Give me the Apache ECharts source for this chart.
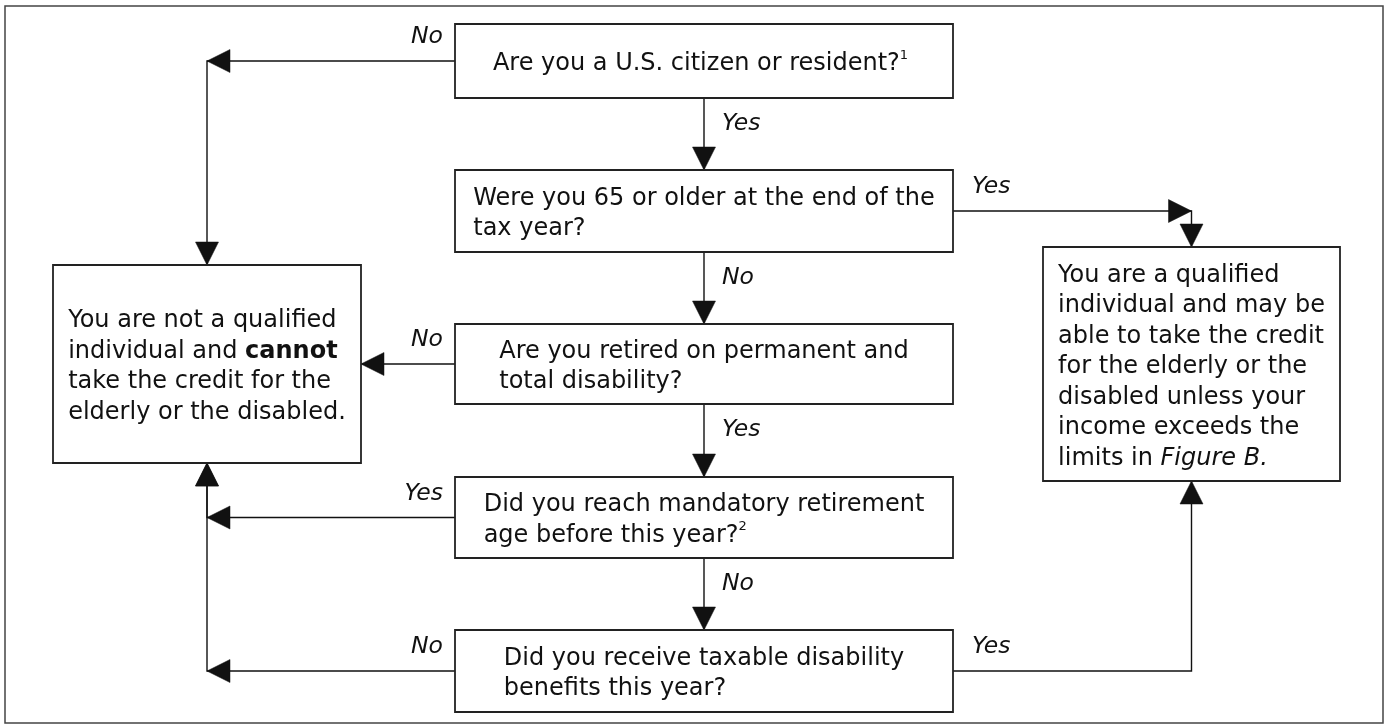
<!DOCTYPE html>
<html><head><meta charset="utf-8">
<script src="https://cdn.jsdelivr.net/npm/echarts@6/dist/echarts.min.js"></script>
<style>html,body{margin:0;padding:0;background:#fff}#c{width:1391px;height:726px}</style>
</head><body><div id="c"></div>
<script>
// ---------------- content ----------------
const nodeIds = ['q1', 'q2', 'q3', 'q4', 'q5', 'notq', 'qual'];
const nodeTexts = [
  'Are you a U.S. citizen or resident?{sup|1}',
  'Were you 65 or older at the end of the\ntax year?',
  'Are you retired on permanent and\ntotal disability?',
  'Did you reach mandatory retirement\nage before this year?{sup|2}',
  'Did you receive taxable disability\nbenefits this year?',
  'You are not a qualified\nindividual and {b|cannot}\ntake the credit for the\nelderly or the disabled.',
  'You are a qualified\nindividual and may be\nable to take the credit\nfor the elderly or the\ndisabled unless your\nincome exceeds the\nlimits in {i|Figure B.}'
];
const edgeFrom   = ['q1', 'q1', 'q2', 'q2', 'q3', 'q3', 'q4', 'q4', 'q5', 'q5'];
const edgeTo     = ['notq', 'q2', 'qual', 'q3', 'notq', 'q4', 'notq', 'q5', 'notq', 'qual'];
const edgeLabels = ['No', 'Yes', 'Yes', 'No', 'No', 'Yes', 'Yes', 'No', 'No', 'Yes'];

// ---------------- layout (diagram units on a 1391 x 726 plane) ----------------
const boxes = {
  q1:   [455, 24, 953, 98],
  q2:   [455, 170, 953, 252],
  q3:   [455, 324, 953, 404],
  q4:   [455, 477, 953, 558],
  q5:   [455, 630, 953, 712],
  notq: [53, 265, 361, 463],
  qual: [1043, 247, 1340, 481]
};
// exit side, entry side, arrowhead at the bend
const edgeSides = [
  ['left', 'top', true], ['bottom', 'top', false], ['right', 'top', true],
  ['bottom', 'top', false], ['left', 'right', false], ['bottom', 'top', false],
  ['left', 'bottom', true], ['bottom', 'top', false], ['left', 'bottom', true],
  ['right', 'bottom', false]
];

const FONT = '"DejaVu Sans", Verdana, sans-serif';
const FS = 24, LH = 30.5, LABEL_FS = 23.5;
const INK = '#111';

const mctx = document.createElement('canvas').getContext('2d');
mctx.font = FS + 'px "DejaVu Sans"';
function plain(s) { return s.replace(/\{(\w+)\|([^}]*)\}/g, '$2'); }
function blockWidth(s) {
  return Math.max.apply(null, plain(s).split('\n').map(l => mctx.measureText(l).width));
}

function anchor(b, side) {
  const cx = (b[0] + b[2]) / 2, cy = (b[1] + b[3]) / 2;
  if (side === 'left') return [b[0], cy];
  if (side === 'right') return [b[2], cy];
  if (side === 'top') return [cx, b[1]];
  return [cx, b[3]];
}
function route(i) {
  const a = anchor(boxes[edgeFrom[i]], edgeSides[i][0]);
  const b = anchor(boxes[edgeTo[i]], edgeSides[i][1]);
  const pts = [a], arrows = [];
  if (Math.abs(a[0] - b[0]) > 0.5 && Math.abs(a[1] - b[1]) > 0.5) {
    pts.push([b[0], a[1]]);
    if (edgeSides[i][2]) arrows.push(1);
  }
  pts.push(b); arrows.push(pts.length - 1);
  return { pts, arrows };
}

const richStyles = {
  sup: { fontSize: 13, fontFamily: FONT, fill: INK, verticalAlign: 'top', lineHeight: 18 },
  b:   { fontSize: FS, fontFamily: FONT, fill: INK, fontWeight: 'bold', lineHeight: LH },
  i:   { fontSize: FS, fontFamily: FONT, fill: INK, fontStyle: 'italic', lineHeight: LH }
};

function renderBox(params, api) {
  const id = nodeIds[params.dataIndex];
  const b = boxes[id];
  const p0 = api.coord([b[0], b[1]]), p1 = api.coord([b[2], b[3]]);
  const txt = nodeTexts[params.dataIndex];
  const w = blockWidth(txt);
  const cx = (p0[0] + p1[0]) / 2, cy = (p0[1] + p1[1]) / 2;
  return {
    type: 'group',
    children: [
      { type: 'rect', shape: { x: p0[0], y: p0[1], width: p1[0] - p0[0], height: p1[1] - p0[1] },
        style: { fill: '#fff', stroke: '#222', lineWidth: 1.8 } },
      { type: 'text',
        style: { text: txt, x: cx - w / 2, y: cy + 3, align: 'left', verticalAlign: 'middle',
                 fontSize: FS, fontFamily: FONT, fill: INK, lineHeight: LH, rich: richStyles } }
    ]
  };
}

function renderEdge(params, api) {
  const i = params.dataIndex;
  const r = route(i);
  const px = r.pts.map(p => api.coord(p));
  const children = [{ type: 'polyline', shape: { points: px },
    style: { stroke: INK, lineWidth: 1.4, fill: null } }];
  const L = 23, W = 11.5;
  r.arrows.forEach(k => {
    const tip = px[k], prev = px[k - 1];
    let dx = tip[0] - prev[0], dy = tip[1] - prev[1];
    const len = Math.hypot(dx, dy); dx /= len; dy /= len;
    const bx = tip[0] - dx * L, by = tip[1] - dy * L;
    children.push({ type: 'polygon', shape: { points: [tip, [bx - dy * W, by + dx * W], [bx + dy * W, by - dx * W]] },
      style: { fill: INK, stroke: INK, lineWidth: 0.5 } });
  });
  const a = px[0], n = px[1];
  let lx, ly, al;
  if (n[0] < a[0]) { lx = a[0] - 12; ly = a[1] - 24; al = 'right'; }
  else if (n[0] > a[0]) { lx = a[0] + 19; ly = a[1] - 24; al = 'left'; }
  else { lx = a[0] + 18; ly = a[1] + 26; al = 'left'; }
  children.push({ type: 'text', style: { text: edgeLabels[i], x: lx, y: ly, align: al, verticalAlign: 'middle',
    fontSize: LABEL_FS, fontFamily: FONT, fontStyle: 'italic', fill: INK } });
  return { type: 'group', children };
}

const chart = echarts.init(document.getElementById('c'), null, { renderer: 'canvas' });
chart.setOption({
  animation: false,
  backgroundColor: '#fff',
  grid: { left: 0, right: 0, top: 0, bottom: 0 },
  xAxis: { type: 'value', min: 0, max: 1391, show: false },
  yAxis: { type: 'value', min: 0, max: 726, inverse: true, show: false },
  graphic: [{ type: 'rect', shape: { x: 5, y: 6, width: 1378, height: 717 },
    style: { fill: null, stroke: '#444', lineWidth: 1.5 }, silent: true }],
  series: [
    { type: 'custom', name: 'edges', clip: false, renderItem: renderEdge,
      data: edgeFrom.map((_, i) => [i, 0]) },
    { type: 'custom', name: 'nodes', clip: false, renderItem: renderBox,
      data: nodeIds.map((_, i) => [i, 0]) }
  ]
});
</script></body></html>
